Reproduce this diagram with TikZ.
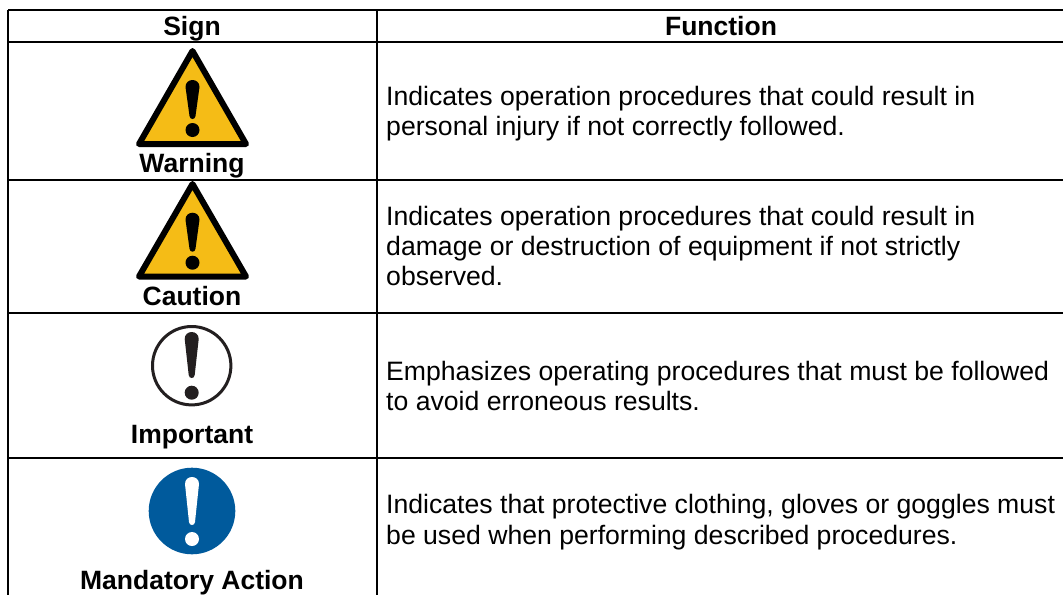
\documentclass[tikz,border=0pt]{standalone}
\usepackage{fontspec}
\setmainfont{Liberation Sans}
\definecolor{warnyellow}{HTML}{F5BC16}
\definecolor{inkblack}{HTML}{231F20}
\definecolor{mandblue}{HTML}{005A9C}
\tikzset{
  rule/.style={black,line width=2pt},
  head/.style={font=\fontsize{26.5}{30}\selectfont\bfseries,anchor=base,inner sep=0pt},
  body/.style={font=\fontsize{26.62}{30}\selectfont,anchor=base west,inner sep=0pt},
  tri/.style={draw=black,fill=warnyellow,line width=6pt,line join=round},
  pics/bang/.style n args={3}{code={
    \fill[#1] (-7,7) .. controls (-7,-2.3) and (7,-2.3) .. (7,7)
       -- (3,{#2-3}) .. controls (2.6,{#2+1}) and (-2.6,{#2+1}) .. (-3,{#2-3}) -- cycle;
    \fill[#1] (0,#3) circle (7);
  }}
}
\begin{document}
\begin{tikzpicture}[x=1pt,y=-1pt]
\useasboundingbox (0,0) rectangle (1063,595);
\fill[white] (0,0) rectangle (1063,595);
% table grid
\coordinate (tl) at (8,10); \coordinate (tr) at (1063,10);
\coordinate (hl) at (8,42); \coordinate (hr) at (1063,42);
\coordinate (al) at (8,180); \coordinate (ar) at (1063,180);
\coordinate (bl) at (8,313); \coordinate (br) at (1063,313);
\coordinate (cl) at (8,458); \coordinate (cr) at (1063,458);
\coordinate (ll) at (8,595); \coordinate (mt) at (377,10); \coordinate (mb) at (377,595);
\draw[rule] (tl)--(tr); \draw[rule] (hl)--(hr); \draw[rule] (al)--(ar);
\draw[rule] (bl)--(br); \draw[rule] (cl)--(cr);
\draw[rule] (tl)--(ll); \draw[rule] (mt)--(mb);
% header
\node[head] (sign) at (192,35) {Sign};
\node[head] (func) at (721,35) {Function};
% warning
\draw[tri] (192.5,51) -- (246,144) -- (139,144) -- cycle;
\pic at (192.5,80) {bang={black}{39}{50}};
\node[head] (warn) at (192,172) {Warning};
% caution
\draw[tri] (192.5,184) -- (246,276.5) -- (139,276.5) -- cycle;
\pic at (192.5,212.7) {bang={black}{39}{50}};
\node[head] (caut) at (192,305) {Caution};
% important
\draw[inkblack,line width=3pt] (191.7,365.7) circle (39.2);
\pic at (191.7,332) {bang={inkblack}{46}{60.7}};
\node[head] (impo) at (192,443) {Important};
% mandatory
\fill[mandblue] (192,511) circle (43.3);
\pic at (192,477) {bang={white}{48}{62}};
\node[head] (mand) at (192,589) {Mandatory Action};
% body
\node[body] (t1) at (386,105.5) {Indicates operation procedures that could result in};
\node[body] (t2) at (386,135.5) {personal injury if not correctly followed.};
\node[body] (t3) at (386,225.7) {Indicates operation procedures that could result in};
\node[body] (t4) at (386,255.7) {damage or destruction of equipment if not strictly};
\node[body] (t5) at (386,285.7) {observed.};
\node[body] (t6) at (386,380) {Emphasizes operating procedures that must be followed};
\node[body] (t7) at (386,410) {to avoid erroneous results.};
\node[body] (t8) at (386,513.5) {Indicates that protective clothing, gloves or goggles must};
\node[body] (t9) at (386,544) {be used when performing described procedures.};
\end{tikzpicture}
\end{document}
